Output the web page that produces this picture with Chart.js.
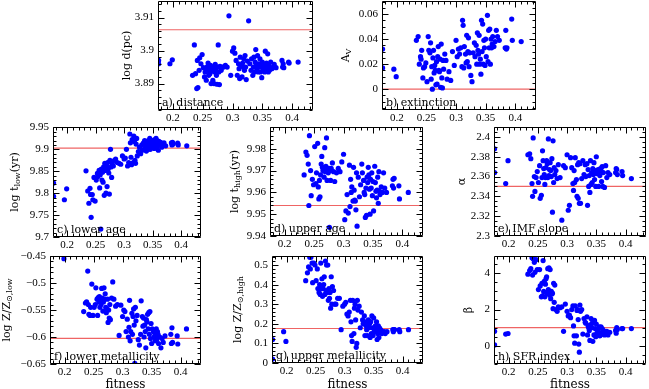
<!DOCTYPE html>
<html>
<head>
<meta charset="utf-8">
<script src="https://cdn.jsdelivr.net/npm/chart.js@4.4.0/dist/chart.umd.min.js"></script>
<style>
  html, body { margin: 0; padding: 0; background: #fff; overflow: hidden; width: 649px; height: 389px; position: relative; }
  canvas { position: absolute; }
  #err { position: absolute; left: 0; top: 0; font: 10px monospace; color: #c00; z-index: 9; }
</style>
</head>
<body>
<div id="err"></div>
<script>
const fitness = [
  0.176, 0.176, 0.195, 0.199,
  0.233,0.236,0.238,0.240,0.241,0.242,0.244,0.245,0.247,0.249,
  0.251,0.253,0.254,0.256,0.257,0.258,0.259,0.260,0.261,0.262,
  0.263,0.264,0.265,0.266,0.267,0.268,0.269,0.270,0.271,0.272,
  0.273,0.274,0.275,0.276,0.277,0.278,0.279,0.281,0.283,0.285,
  0.288,0.291,
  0.294,0.297,0.300,0.302,0.304,0.306,0.308,0.310,0.311,0.312,
  0.313,0.314,0.316,0.317,0.318,0.319,0.320,0.321,0.322,0.323,
  0.325,0.327,0.329,0.331,0.332,0.334,0.335,0.336,0.337,0.338,
  0.339,0.340,0.341,0.342,0.343,0.344,0.345,0.346,0.347,0.348,
  0.349,0.350,0.351,0.353,0.354,0.355,0.356,0.357,0.358,0.359,
  0.360,0.361,0.362,0.364,0.366,0.368,0.370,0.373,0.383,0.384,
  0.385,0.386,0.394,0.395,0.410
];
const logDist = [
  3.8970, 3.8960, 3.8960, 3.8972,
  3.8925,3.9017,3.8930,3.8885,3.8970,3.8888,3.8940,3.8978,3.8960,3.8988,
  3.8948,3.8920,3.8935,3.8910,3.8950,3.8940,3.8962,3.8925,3.8945,3.8930,
  3.8955,3.8900,3.8938,3.8950,3.8910,3.8945,3.8900,3.8935,3.8958,3.8942,
  3.8925,3.8898,3.8950,3.9017,3.8935,3.8897,3.8952,3.8940,3.8950,3.8950,
  3.8955,3.8950,
  3.9105,3.8925,3.8998,3.9008,3.8992,3.8970,3.8925,3.8960,3.8945,3.8915,
  3.8980,3.8955,3.8920,3.8962,3.8950,3.8975,3.8940,3.8985,3.8950,3.8912,
  3.8968,3.9090,3.8960,3.8940,3.8975,3.8925,3.8950,3.8980,3.8935,3.8965,
  3.9003,3.8958,3.8945,3.8985,3.8935,3.8960,3.8950,3.8975,3.8935,3.8955,
  3.8918,3.8965,3.8945,3.8958,3.8935,3.8998,3.8950,3.8962,3.8945,3.8990,
  3.8935,3.8955,3.8940,3.8965,3.8945,3.8950,3.8958,3.8948,3.8970,3.8950,
  3.8960,3.8948,3.8965,3.8962,3.8965
];
const extinction = [
  0.032, 0.017, 0.016, 0.010,
  0.039,0.042,0.020,0.026,0.024,0.031,0.009,0.017,0.018,0.021,
  0.006,0.042,0.031,0.029,0.037,0.008,0.018,0.000,0.025,0.031,
  0.013,0.019,0.015,0.0035,0.022,0.004,0.026,0.034,0.015,0.014,
  0.024,0.0015,0.036,0.009,0.001,0.023,0.016,0.028,0.023,0.008,
  0.014,0.007,
  0.030,0.019,0.039,0.026,0.032,0.028,0.033,0.018,0.055,0.051,
  0.017,0.034,0.028,0.021,0.043,0.022,0.030,0.041,0.018,0.029,
  0.011,0.006,0.029,0.037,0.026,0.035,0.020,0.045,0.031,0.028,
  0.043,0.020,0.024,0.012,0.055,0.030,0.052,0.020,0.039,0.033,
  0.019,0.040,0.026,0.059,0.022,0.047,0.033,0.048,0.020,0.040,
  0.033,0.036,0.042,0.034,0.038,0.047,0.042,0.039,0.033,0.047,
  0.032,0.033,0.056,0.039,0.038
];
const logTlow = [
  9.823, 9.793, 9.785, 9.810,
  9.851,9.805,9.777,9.811,9.797,9.745,9.797,9.785,9.836,9.782,
  9.830,9.845,9.838,9.852,9.812,9.842,9.718,9.855,9.830,9.848,
  9.825,9.860,9.795,9.868,9.852,9.800,9.862,9.815,9.870,9.855,
  9.846,9.798,9.875,9.900,9.860,9.836,9.868,9.862,9.875,9.878,
  9.870,9.868,
  9.866,9.885,9.878,9.880,9.900,9.862,9.870,9.935,9.915,9.882,
  9.865,9.922,9.870,9.930,9.918,9.875,9.868,9.912,9.925,9.885,
  9.895,9.905,9.890,9.910,9.898,9.915,9.900,9.920,9.912,9.905,
  9.896,9.918,9.908,9.900,9.920,9.912,9.925,9.900,9.915,9.918,
  9.906,9.920,9.910,9.902,9.922,9.915,9.925,9.905,9.920,9.912,
  9.898,9.918,9.910,9.916,9.905,9.912,9.915,9.908,9.915,9.910,
  9.916,9.912,9.914,9.910,9.908
];
const logThigh = [
  null, null, null, null,
  9.968,9.9785,9.977,9.973,9.954,9.986,9.970,9.9585,9.966,9.9635,
  9.981,9.964,9.969,9.9825,9.9625,9.957,9.9655,9.958,9.968,9.973,
  9.9765,9.9715,9.970,9.9705,9.967,9.9805,9.9695,9.972,9.985,9.9655,
  9.9705,9.969,9.971,9.944,9.970,9.9655,9.971,9.9735,9.9695,9.965,
  9.969,9.971,
  9.9695,9.974,9.9775,9.9475,9.9515,9.959,9.9505,9.9725,9.9535,9.966,
  9.960,9.9625,9.956,9.9715,9.961,9.9565,9.956,9.952,9.969,9.9445,
  9.967,9.958,9.9635,9.973,9.969,9.9655,9.960,9.959,9.9485,9.962,
  9.9495,9.967,9.9645,9.9715,9.968,9.9615,9.950,9.966,9.962,9.969,
  9.9585,9.965,9.9515,9.972,9.9645,9.9605,9.9575,9.961,9.967,9.955,
  9.9695,9.9605,9.959,9.9625,9.960,9.969,9.962,9.960,9.963,9.966,
  9.962,9.9665,9.963,9.957,9.960
];
const imfSlope = [
  2.388, 2.364, 2.353, 2.376,
  2.382,2.383,2.378,2.353,2.340,2.399,2.360,2.345,2.359,2.365,
  2.354,2.371,2.338,2.341,2.359,2.386,2.376,2.368,2.362,2.352,
  2.359,2.369,2.376,2.373,2.359,2.398,2.361,2.367,2.374,2.366,
  2.360,2.378,2.324,2.396,2.354,2.369,2.362,2.366,2.358,2.372,
  2.359,2.316,
  2.371,2.369,2.382,2.326,2.331,2.379,2.369,2.353,2.346,2.366,
  2.354,2.379,2.357,2.340,2.372,2.338,2.374,2.333,2.373,2.333,
  2.358,2.376,2.362,2.372,2.360,2.373,2.331,2.367,2.350,2.361,
  2.344,2.376,2.352,2.364,2.354,2.368,2.362,2.374,2.357,2.366,
  2.350,2.380,2.363,2.367,2.350,2.365,2.361,2.368,2.366,2.355,
  2.370,2.350,2.364,2.349,2.371,2.359,2.364,2.362,2.364,2.368,
  2.367,2.362,2.365,2.361,2.358
];
const logZlow = [
  null, null, null, -0.455,
  -0.553,-0.537,-0.535,-0.478,-0.540,-0.558,-0.560,-0.545,-0.502,-0.560,
  -0.545,-0.540,-0.509,-0.530,-0.560,-0.527,-0.535,-0.525,-0.545,-0.530,
  -0.540,-0.510,-0.528,-0.552,-0.535,-0.509,-0.530,-0.520,-0.545,-0.555,
  -0.548,-0.530,-0.573,-0.550,-0.565,-0.540,-0.568,-0.528,-0.498,-0.530,
  -0.543,-0.540,
  -0.597,-0.541,-0.562,-0.550,-0.553,-0.590,-0.567,-0.600,-0.582,-0.532,
  -0.607,-0.590,-0.556,-0.595,-0.562,-0.548,-0.578,-0.649,-0.545,-0.570,
  -0.560,-0.605,-0.615,-0.595,-0.533,-0.562,-0.580,-0.565,-0.600,-0.578,
  -0.590,-0.620,-0.568,-0.572,-0.558,-0.585,-0.555,-0.595,-0.553,-0.603,
  -0.575,-0.612,-0.585,-0.590,-0.600,-0.592,-0.607,-0.598,-0.585,-0.604,
  -0.590,-0.595,-0.612,-0.600,-0.620,-0.603,-0.610,-0.598,-0.595,-0.612,
  -0.583,-0.610,-0.598,-0.613,-0.585
];
const logZhigh = [
  0.12, 0.02, 0.16, 0.11,
  0.42,0.46,0.49,0.54,0.48,0.54,0.51,0.41,0.51,0.50,
  0.42,0.48,0.38,0.36,0.40,0.35,0.51,0.38,0.43,0.34,
  0.38,0.40,0.44,0.35,0.52,0.37,0.50,0.36,0.50,0.32,
  0.38,0.33,0.36,0.28,0.44,0.30,0.39,0.37,0.30,0.30,
  0.33,0.33,
  0.17,0.29,0.30,0.31,0.25,0.24,0.26,0.32,0.21,0.14,
  0.11,0.32,0.15,0.28,0.30,0.22,0.08,0.10,0.32,0.27,
  0.29,0.18,0.26,0.22,0.20,0.24,0.14,0.21,0.19,0.17,
  0.14,0.19,0.22,0.18,0.20,0.13,0.21,0.15,0.24,0.18,
  0.14,0.23,0.16,0.19,0.17,0.21,0.12,0.15,0.19,0.13,
  0.18,0.16,0.17,0.15,0.16,0.16,0.15,0.16,0.17,0.16,
  0.17,0.17,0.17,0.16,0.17
];
const sfrIndex = [
  0.8, 0.05, 0.65, 0.68,
  3.95,4.15,4.25,4.85,3.9,4.8,4.6,4.05,4.75,4.2,
  3.1,4.2,3.3,2.7,3.45,2.75,4.7,3.0,3.55,2.7,
  3.4,3.7,3.8,2.9,4.25,3.1,4.3,2.8,4.2,2.6,
  3.0,2.85,2.9,2.05,3.45,2.4,3.35,2.0,1.9,2.15,
  2.1,2.15,
  0.8,2.3,1.9,1.65,1.7,1.55,2.0,2.2,1.1,0.55,
  0.15,2.2,0.55,1.95,2.0,1.45,0.1,-0.35,2.25,1.9,
  2.0,0.65,1.5,1.3,1.25,1.6,0.6,1.1,1.0,0.85,
  0.3,1.15,1.5,1.0,1.25,0.25,1.3,0.6,1.4,0.95,
  0.5,1.2,0.7,0.9,0.75,1.05,0.55,0.6,1.05,0.65,
  0.95,0.75,0.85,0.6,0.65,0.8,0.6,0.75,0.85,0.7,
  1.0,0.9,0.95,0.95,0.95
];

const refValues = [3.9063, 0, 9.903, 9.954, 2.35, -0.6025, 0.176, 1.0];
const panelLabels = ['a) distance', 'b) extinction', 'c) lower age', 'd) upper age',
  'e) IMF slope', 'f) lower metallicity', 'g) upper metallicity', 'h) SFR index'];

const xTicks = [0.2, 0.25, 0.3, 0.35, 0.4];
const distTicks = [3.89, 3.9, 3.91];
const avTicks = [0, 0.02, 0.04, 0.06];
const tlowTicks = [9.7, 9.75, 9.8, 9.85, 9.9, 9.95];
const thighTicks = [9.94, 9.95, 9.96, 9.97, 9.98];
const alphaTicks = [2.3, 2.32, 2.34, 2.36, 2.38, 2.4];
const zlowTicks = [-0.65, -0.6, -0.55, -0.5, -0.45];
const zhighTicks = [0, 0.1, 0.2, 0.3, 0.4, 0.5];
const betaTicks = [0, 2, 4];

const X_MIN = 0.175, X_MAX = 0.435;
const SERIF = '"DejaVu Serif", serif';
const TICKFONT = '"Liberation Serif", serif';

const panels = [
  { box: [158, 1, 315, 110], B: 18, vals: logDist, ticks: distTicks, y: [3.882, 3.915], major: 0.01, minor: 0.002,
    title: [['log d(pc)']], tOff: 31 },
  { box: [382, 1, 538, 110], B: 18, vals: extinction, ticks: avTicks, y: [-0.0166, 0.0704], major: 0.02, minor: 0.005,
    title: [['A'], ['V', 1]], tOff: 36 },
  { box: [53, 127, 203, 237], B: 16, vals: logTlow, ticks: tlowTicks, y: [9.7, 9.951], major: 0.05, minor: 0.01,
    title: [['log t'], ['low', 1], ['(yr)']], tOff: 38 },
  { box: [270, 127, 425, 236], B: 16, vals: logThigh, ticks: thighTicks, y: [9.94, 9.99], major: 0.01, minor: 0.002,
    title: [['log t'], ['high', 1], ['(yr)']], tOff: 35 },
  { box: [494, 127, 648, 236], B: 16, vals: imfSlope, ticks: alphaTicks, y: [2.3, 2.41], major: 0.02, minor: 0.005,
    title: [['α']], tOff: 32 },
  { box: [50, 256, 203, 364], B: 28, vals: logZlow, ticks: zlowTicks, y: [-0.65, -0.45], major: 0.05, minor: 0.01,
    title: [['log Z/Z'], ['⊙,low', 1]], tOff: 43, fitness: true },
  { box: [272, 256, 425, 363], B: 29, vals: logZhigh, ticks: zhighTicks, y: [0, 0.546], major: 0.1, minor: 0.02,
    title: [['log Z/Z'], ['⊙,high', 1]], tOff: 34, fitness: true },
  { box: [494, 256, 648, 364], B: 28, vals: sfrIndex, ticks: betaTicks, y: [-1, 4.95], major: 2, minor: 0.5,
    title: [['β']], tOff: 25, fitness: true }
];

function fmt(v) {
  return String(+Number(v).toFixed(4)).replace('-', '\u2212');
}

function showErr(e) {
  document.getElementById('err').textContent += ' ' + (e && e.message ? e.message : e);
}

// frame with inward ticks on all four sides, panel label and y title
const framePlugin = {
  id: 'frame',
  afterDraw(chart) {
    const o = chart.config.options.frameOpts;
    const ctx = chart.ctx;
    const a = chart.chartArea;
    const sx = chart.scales.x, sy = chart.scales.y;
    try {
      ctx.save();
      ctx.globalAlpha = 1;
      ctx.setLineDash([]);
      ctx.strokeStyle = '#000000';
      ctx.lineWidth = 1;
      const L = Math.round(a.left) + 0.5, Rr = Math.round(a.right) - 0.5;
      const Tt = Math.round(a.top) + 0.5, Bb = Math.round(a.bottom) - 0.5;
      ctx.beginPath();
      const tick = (scale, step, len, horiz) => {
        const k0 = Math.ceil(scale.min / step - 1e-6);
        for (let k = k0; k * step <= scale.max + 1e-9; k++) {
          const p = Math.round(scale.getPixelForValue(k * step)) + 0.5;
          if (horiz) {
            ctx.moveTo(p, Bb); ctx.lineTo(p, Bb - len);
            ctx.moveTo(p, Tt); ctx.lineTo(p, Tt + len);
          } else {
            ctx.moveTo(L, p); ctx.lineTo(L + len, p);
            ctx.moveTo(Rr, p); ctx.lineTo(Rr - len, p);
          }
        }
      };
      tick(sx, 0.01, 3, true);
      tick(sx, 0.05, 6, true);
      tick(sy, o.minor, 3, false);
      tick(sy, o.major, 6, false);
      ctx.moveTo(L, Tt); ctx.lineTo(Rr, Tt); ctx.lineTo(Rr, Bb); ctx.lineTo(L, Bb); ctx.closePath();
      ctx.stroke();

      ctx.fillStyle = '#000';
      ctx.font = '11px ' + SERIF;
      ctx.textBaseline = 'alphabetic';
      ctx.textAlign = 'left';
      ctx.fillText(o.label, a.left + 4, a.bottom - 4);

      ctx.translate(a.left - o.tOff, (a.top + a.bottom) / 2);
      ctx.rotate(-Math.PI / 2);
      ctx.textBaseline = 'middle';
      let w = 0;
      o.title.forEach(s => { ctx.font = (s[1] ? '8px ' : '11px ') + SERIF; w += ctx.measureText(s[0]).width; });
      let cx = -w / 2;
      o.title.forEach(s => {
        ctx.font = (s[1] ? '8px ' : '11px ') + SERIF;
        ctx.fillText(s[0], cx, s[1] ? 3 : 0);
        cx += ctx.measureText(s[0]).width;
      });
      ctx.restore();
    } catch (e) { showErr(e); }
  }
};

function makePanel(p, i) {
  const L = 52, T = 12, R = 2;
  const fw = p.box[2] - p.box[0], fh = p.box[3] - p.box[1];
  const cv = document.createElement('canvas');
  cv.width = fw + L + R;
  cv.height = fh + T + p.B;
  cv.style.width = cv.width + 'px';
  cv.style.height = cv.height + 'px';
  cv.style.left = (p.box[0] - L) + 'px';
  cv.style.top = (p.box[1] - T) + 'px';
  document.body.appendChild(cv);

  new Chart(cv, {
    type: 'scatter',
    data: {
      datasets: [
        {
          data: fitness.map((f, k) => ({ x: f, y: p.vals[k] })),
          backgroundColor: '#0000ff',
          borderWidth: 0,
          pointRadius: 2.6,
          clip: 0,
          order: 0
        },
        {
          type: 'line',
          data: [{ x: X_MIN, y: refValues[i] }, { x: X_MAX, y: refValues[i] }],
          borderColor: '#ef6464',
          borderWidth: 1.2,
          pointRadius: 0,
          order: 1
        }
      ]
    },
    options: {
      responsive: false,
      animation: false,
      events: [],
      frameOpts: { major: p.major, minor: p.minor, label: panelLabels[i], title: p.title, tOff: p.tOff },
      layout: { padding: { top: T, right: R, left: 0, bottom: 0 } },
      scales: {
        x: {
          type: 'linear', min: X_MIN, max: X_MAX,
          grid: { display: false, drawTicks: false }, border: { display: false },
          ticks: { font: { family: TICKFONT, size: 11 }, color: '#000', padding: 2,
            autoSkip: false, maxRotation: 0, callback: fmt },
          afterBuildTicks: s => { s.ticks = xTicks.map(v => ({ value: v })); },
          afterFit: s => { s.height = p.B; },
          title: { display: !!p.fitness, text: 'fitness', color: '#000',
            font: { family: SERIF, size: 12 }, padding: { top: 0, bottom: 0 } }
        },
        y: {
          type: 'linear', min: p.y[0], max: p.y[1],
          grid: { display: false, drawTicks: false }, border: { display: false },
          ticks: { font: { family: TICKFONT, size: 11 }, color: '#000', padding: 4,
            autoSkip: false, callback: fmt },
          afterBuildTicks: s => { s.ticks = p.ticks.map(v => ({ value: v })); },
          afterFit: s => { s.width = L; }
        }
      },
      plugins: {
        legend: { display: false },
        tooltip: { enabled: false }
      }
    },
    plugins: [framePlugin]
  });
}

try { panels.forEach(makePanel); } catch (e) { showErr(e); }
</script>
</body>
</html>
